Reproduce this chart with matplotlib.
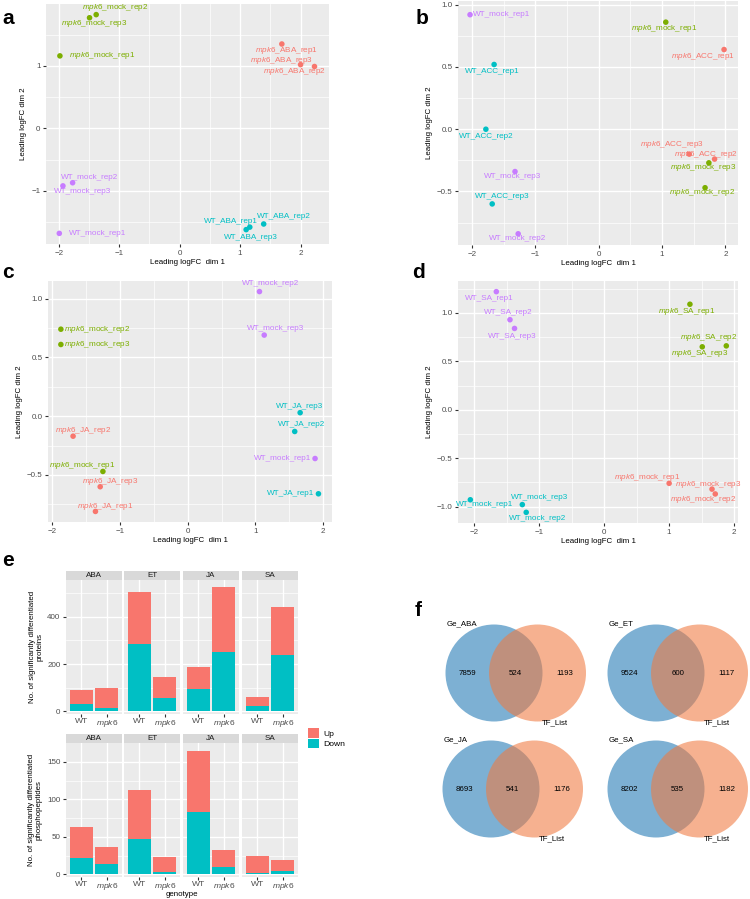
import matplotlib.pyplot as plt
from matplotlib.patches import Patch, Circle

plt.rcParams['font.family'] = ['Liberation Sans', 'DejaVu Sans']
plt.rcParams['mathtext.fontset'] = 'custom'
plt.rcParams['mathtext.it'] = 'Liberation Sans:italic'
plt.rcParams['mathtext.rm'] = 'Liberation Sans'

RED, GREEN, CYAN, PURPLE = '#F8766D', '#7CAE00', '#00BFC4', '#C77CFF'

# ---- MDS panels: sample names, dim1, dim2, colours ----
a_names = ['mpk6_mock_rep2', 'mpk6_mock_rep3', 'mpk6_mock_rep1',
           'mpk6_ABA_rep1', 'mpk6_ABA_rep3', 'mpk6_ABA_rep2',
           'WT_mock_rep2', 'WT_mock_rep3', 'WT_mock_rep1',
           'WT_ABA_rep1', 'WT_ABA_rep2', 'WT_ABA_rep3']
a_dim1 = [-1.38, -1.49, -1.98, 1.69, 2.00, 2.23, -1.77, -1.93, -1.99, 1.16, 1.39, 1.10]
a_dim2 = [1.82, 1.77, 1.16, 1.35, 1.02, 0.99, -0.87, -0.92, -1.68, -1.58, -1.53, -1.62]
a_col = [GREEN] * 3 + [RED] * 3 + [PURPLE] * 3 + [CYAN] * 3

b_names = ['WT_mock_rep1', 'mpk6_mock_rep1', 'mpk6_ACC_rep1', 'WT_ACC_rep1',
           'WT_ACC_rep2', 'WT_mock_rep3', 'WT_ACC_rep3', 'mpk6_ACC_rep3',
           'mpk6_ACC_rep2', 'mpk6_mock_rep3', 'mpk6_mock_rep2', 'WT_mock_rep2']
b_dim1 = [-2.03, 1.06, 1.98, -1.65, -1.78, -1.32, -1.68, 1.43, 1.83, 1.74, 1.68, -1.27]
b_dim2 = [0.92, 0.86, 0.64, 0.52, 0.00, -0.34, -0.60, -0.20, -0.24, -0.27, -0.47, -0.84]
b_col = [PURPLE, GREEN, RED, CYAN, CYAN, PURPLE, CYAN, RED, RED, GREEN, GREEN, PURPLE]

c_names = ['WT_mock_rep2', 'WT_mock_rep3', 'mpk6_mock_rep2', 'mpk6_mock_rep3',
           'WT_JA_rep3', 'WT_JA_rep2', 'mpk6_JA_rep2', 'WT_mock_rep1',
           'mpk6_mock_rep1', 'mpk6_JA_rep3', 'WT_JA_rep1', 'mpk6_JA_rep1']
c_dim1 = [1.06, 1.13, -1.87, -1.87, 1.66, 1.58, -1.69, 1.88, -1.25, -1.29, 1.93, -1.36]
c_dim2 = [1.06, 0.69, 0.74, 0.61, 0.03, -0.13, -0.17, -0.36, -0.47, -0.60, -0.66, -0.81]
c_col = [PURPLE, PURPLE, GREEN, GREEN, CYAN, CYAN, RED, PURPLE, GREEN, RED, CYAN, RED]

d_names = ['WT_SA_rep1', 'WT_SA_rep2', 'WT_SA_rep3', 'mpk6_SA_rep1',
           'mpk6_SA_rep2', 'mpk6_SA_rep3', 'WT_mock_rep1', 'WT_mock_rep3',
           'WT_mock_rep2', 'mpk6_mock_rep1', 'mpk6_mock_rep3', 'mpk6_mock_rep2']
d_dim1 = [-1.66, -1.45, -1.38, 1.32, 1.88, 1.51, -2.06, -1.26, -1.20, 1.00, 1.66, 1.71]
d_dim2 = [1.22, 0.93, 0.84, 1.09, 0.66, 0.65, -0.93, -0.98, -1.06, -0.76, -0.82, -0.87]
d_col = [PURPLE] * 3 + [GREEN] * 3 + [CYAN] * 3 + [RED] * 3

# ---- panel e: stacked bars ----
treatments = ['ABA', 'ET', 'JA', 'SA']
genotypes = ['WT', 'mpk6']
prot_down = [[30, 15], [284, 56], [95, 249], [22, 237]]
prot_up = [[60, 82], [219, 90], [94, 276], [38, 202]]
phos_down = [[22, 14], [47, 3], [83, 10], [2, 4]]
phos_up = [[41, 23], [66, 20], [82, 22], [23, 15]]

# ---- panel f: venn counts ----
venn_names = ['Ge_ABA', 'Ge_ET', 'Ge_JA', 'Ge_SA']
venn_left = [7859, 9524, 8693, 8202]
venn_both = [524, 600, 541, 535]
venn_right = [1193, 1117, 1176, 1182]

W, H = 750, 899
fig = plt.figure(figsize=(W / 100, H / 100), dpi=100)

LBL = 5.9   # point labels
TTL = 5.7   # axis titles
TCK = 5.8   # tick labels


def px_axes(x0, y0, x1, y1):
    return fig.add_axes([x0 / W, 1 - y1 / H, (x1 - x0) / W, (y1 - y0) / H])


def gg_style(ax):
    ax.set_facecolor('#EBEBEB')
    for s in ax.spines.values():
        s.set_visible(False)
    ax.grid(True, which='major', color='white', lw=1.0)
    ax.grid(True, which='minor', color='white', lw=0.5)
    ax.set_axisbelow(True)
    ax.tick_params(which='major', length=2, width=0.8, color='#333333',
                   labelsize=TCK, labelcolor='#4D4D4D', pad=2)
    ax.tick_params(which='minor', length=0)


def fmt(name):
    if name.startswith('mpk6'):
        return r'$\mathit{mpk6}$' + name[4:]
    return name


def mds_panel(box, names, d1, d2, cols, offs, xlim, ylim, yticks, ylabels, arrow=None):
    ax = px_axes(*box)
    gg_style(ax)
    ax.scatter(d1, d2, c=cols, s=16, zorder=3, linewidths=0)
    for i, n in enumerate(names):
        dx, dy, ha = offs[i]
        ax.annotate(fmt(n), (d1[i], d2[i]), xytext=(dx, dy), textcoords='offset pixels',
                    ha=ha, va='center', fontsize=LBL, color=cols[i], zorder=4,
                    arrowprops=(dict(arrowstyle='-', color=cols[i], lw=0.6, shrinkA=0, shrinkB=2)
                                if arrow == i else None))
    ax.set_xticks([-2, -1, 0, 1, 2])
    ax.set_xticks([-1.5, -0.5, 0.5, 1.5], minor=True)
    ax.set_yticks(yticks)
    ax.set_yticklabels(ylabels)
    step = yticks[1] - yticks[0]
    ax.set_yticks([(yticks[k] + yticks[k + 1]) / 2 for k in range(len(yticks) - 1)]
                  + [yticks[0] - step / 2, yticks[-1] + step / 2], minor=True)
    ax.set_xlim(*xlim)
    ax.set_ylim(*ylim)
    ax.set_xlabel('Leading logFC  dim 1', fontsize=TTL, labelpad=2)
    ax.set_ylabel('Leading logFC dim 2', fontsize=TTL, labelpad=3)
    return ax


C, L, R = 'center', 'left', 'right'
a_offs = [(19, 7, C), (5, -6, C), (9, 0, L), (5, -6, C), (-19, 4, C), (-20, -5, C),
          (17, 5, C), (20, -6, C), (10, 0, L), (-19, 6, C), (20, 7, C), (5, -8, C)]
b_offs = [(3, 0, L), (-2, -6, C), (-21, -7, C), (-2, -7, C), (0, -7, C), (-2, -5, C),
          (10, 7, C), (-17, 10, C), (-9, 5, C), (-6, -5, C), (-3, -5, C), (-1, -5, C)]
c_offs = [(11, 8, C), (11, 7, C), (3, 0, L), (3, 0, L), (-1, 6, C), (7, 7, C),
          (10, 6, C), (-4, 0, R), (-21, 6, C), (10, 5, C), (-4, 0, R), (10, 5, C)]
d_offs = [(-7, -7, C), (-2, 7, C), (-2, -8, C), (-3, -7, C), (-18, 8, C), (-2, -7, C),
          (14, -5, C), (17, 7, C), (11, -6, C), (-22, 6, C), (-4, 5, C), (-12, -6, C)]

mds_panel((46, 4, 329, 244), a_names, a_dim1, a_dim2, a_col, a_offs,
          (-2.21, 2.47), (-1.85, 1.99), [-1, 0, 1], ['\u22121', '0', '1'])
mds_panel((458, 1, 738, 245), b_names, b_dim1, b_dim2, b_col, b_offs,
          (-2.22, 2.2), (-0.93, 1.03), [-0.5, 0.0, 0.5, 1.0],
          ['\u22120.5', '0.0', '0.5', '1.0'], arrow=7)
mds_panel((48, 281, 332, 522), c_names, c_dim1, c_dim2, c_col, c_offs,
          (-2.06, 2.13), (-0.90, 1.15), [-0.5, 0.0, 0.5, 1.0],
          ['\u22120.5', '0.0', '0.5', '1.0'])
mds_panel((458, 281, 738, 523), d_names, d_dim1, d_dim2, d_col, d_offs,
          (-2.25, 2.06), (-1.17, 1.33), [-1.0, -0.5, 0.0, 0.5, 1.0],
          ['\u22121.0', '\u22120.5', '0.0', '0.5', '1.0'])

# ---- panel e ----
facet_x = [(66, 122), (124, 180), (183, 239), (242, 298)]


def bar_row(y_strip, y0, y1, downs, ups, ymax, yticks, yminor, ylabel):
    for k, tr in enumerate(treatments):
        x0, x1 = facet_x[k]
        sax = px_axes(x0, y_strip, x1, y0)
        sax.set_facecolor('#D9D9D9')
        sax.set_xticks([])
        sax.set_yticks([])
        for s in sax.spines.values():
            s.set_visible(False)
        sax.text(0.5, 0.45, tr, ha='center', va='center', fontsize=TCK, color='#1A1A1A',
                 transform=sax.transAxes)
        ax = px_axes(x0, y0, x1, y1)
        gg_style(ax)
        ax.bar([1, 2], downs[k], width=0.9, color=CYAN, zorder=2)
        ax.bar([1, 2], ups[k], bottom=downs[k], width=0.9, color=RED, zorder=2)
        ax.set_xlim(0.4, 2.6)
        ax.set_ylim(-ymax * 0.02, ymax)
        ax.set_xticks([1, 2])
        ax.set_xticklabels(['WT', r'$\mathit{mpk6}$'], fontsize=6.1)
        ax.tick_params(axis='x', pad=0.8)
        ax.set_yticks(yticks)
        ax.set_yticks(yminor, minor=True)
        if k == 0:
            ax.set_ylabel(ylabel, fontsize=TTL, labelpad=3, linespacing=1.1)
        else:
            ax.tick_params(axis='y', which='both', length=0, labelleft=False)


bar_row(571, 580, 714, prot_down, prot_up, 555, [0, 200, 400], [100, 300, 500],
        'No. of significantly differentiated\nproteins')
bar_row(734, 743, 877, phos_down, phos_up, 175, [0, 50, 100, 150], [25, 75, 125],
        'No. of significantly differentiated\nphosphopeptides')
fig.text(182 / W, 1 - 894 / H, 'genotype', ha='center', va='center', fontsize=TTL)

handles = [Patch(facecolor=RED, label='Up'), Patch(facecolor=CYAN, label='Down')]
fig.legend(handles=handles, loc='upper left', bbox_to_anchor=(305 / W, 1 - 725 / H),
           frameon=False, fontsize=6.1, handlelength=1.3, handleheight=1.3,
           handletextpad=0.5, labelspacing=0.1, borderaxespad=0)

# ---- panel f ----
vax = px_axes(375, 560, 750, 899)
vax.set_xlim(375, 750)
vax.set_ylim(899, 560)
vax.axis('off')
venn_centers = [(494, 673), (656, 673), (491, 789), (656, 789)]
gap = 43.5
rad = 48.5
VF = 5.7
for k in range(4):
    cx, cy = venn_centers[k]
    vax.add_patch(Circle((cx, cy), rad, facecolor='#1F77B4', alpha=0.58, lw=0))
    vax.add_patch(Circle((cx + gap, cy), rad, facecolor='#F07A40', alpha=0.58, lw=0))
    vax.text(cx - 27, cy, str(venn_left[k]), ha='center', va='center', fontsize=VF)
    vax.text(cx + gap / 2, cy, str(venn_both[k]), ha='center', va='center', fontsize=VF)
    vax.text(cx + gap + 27, cy, str(venn_right[k]), ha='center', va='center', fontsize=VF)
    vax.text(cx - 47, cy - 49, venn_names[k], ha='left', va='center', fontsize=VF)
    vax.text(cx + gap + 4, cy + 50, 'TF_List', ha='left', va='center', fontsize=VF)

# ---- panel letters ----
for letter, x, y in [('a', 2, 18), ('b', 416, 18), ('c', 2, 273), ('d', 412, 273),
                     ('e', 2, 560), ('f', 415, 611)]:
    fig.text(x / W, 1 - y / H, letter, fontsize=15, fontweight='bold', va='center', ha='left')

fig.savefig('out.png', dpi=100)
